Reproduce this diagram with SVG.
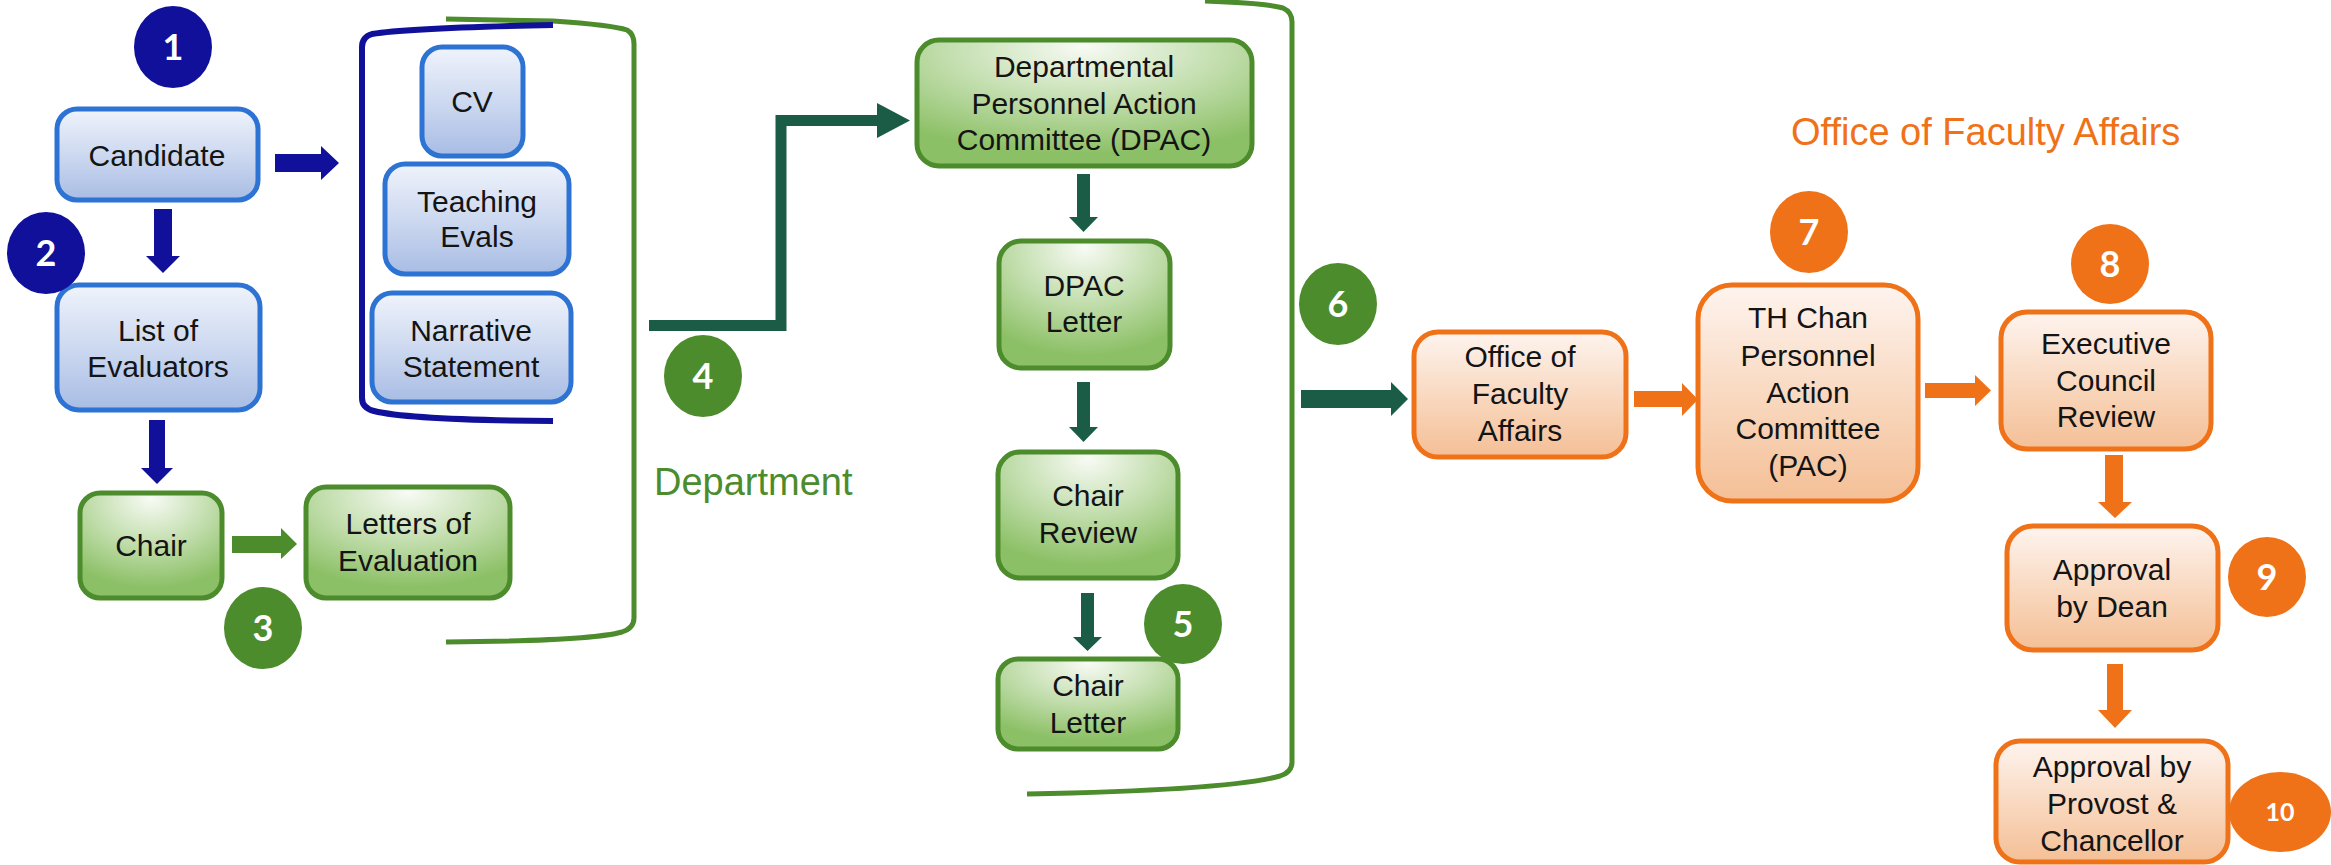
<svg xmlns="http://www.w3.org/2000/svg" width="2331" height="865" viewBox="0 0 2331 865">
<defs>
<linearGradient id="gBlue" x1="0" y1="0" x2="0" y2="1">
<stop offset="0" stop-color="#eff3fb"/><stop offset="0.5" stop-color="#cdd9f0"/><stop offset="1" stop-color="#a8bce4"/>
</linearGradient>
<radialGradient id="gGreen" cx="0.5" cy="0.1" r="0.8" fx="0.5" fy="0.05">
<stop offset="0" stop-color="#f8fbf5"/><stop offset="0.55" stop-color="#bfdca9"/><stop offset="1" stop-color="#8cc066"/>
</radialGradient>
<linearGradient id="gOrange" x1="0" y1="0" x2="0" y2="1">
<stop offset="0" stop-color="#fef4ef"/><stop offset="0.6" stop-color="#f8d4b8"/><stop offset="1" stop-color="#f4bf96"/>
</linearGradient>
<style>
.bb{fill:url(#gBlue);stroke:#2d73d4;stroke-width:5}
.gb{fill:url(#gGreen);stroke:#4c8c2c;stroke-width:5}
.ob{fill:url(#gOrange);stroke:#f07218;stroke-width:5}
.t{font-family:"Liberation Sans",Arial,sans-serif;font-size:30px;fill:#141414;text-anchor:middle}
.n{font-family:Lato,"Open Sans",sans-serif;font-weight:bold;font-size:36px;fill:#ffffff;text-anchor:middle}
.navy{fill:#10109a}.grn{fill:#4c8c2c}.org{fill:#f07218}.teal{fill:#1b5c47}
.title{font-family:"Liberation Sans",Arial,sans-serif;font-size:38px}
</style>
</defs>
<rect width="2331" height="865" fill="#ffffff"/>

<g id="brackets" fill="none" stroke-linecap="butt">
<path d="M446 19 L553 21 Q612 25 627 30 Q634 34 634 44 L634 618 Q634 628 622 632 Q590 641 446 642" stroke="#4c8c2c" stroke-width="5"/>
<path d="M553 25 Q410 28 372 34 Q362 37 362 47 L362 398 Q362 408 374 411 Q410 420 553 421" stroke="#10109a" stroke-width="6"/>
<path d="M1205 1 Q1265 3 1283 8 Q1292 12 1292 22 L1292 762 Q1292 772 1280 776 Q1230 790 1027 794" stroke="#4c8c2c" stroke-width="5"/>
</g>

<g id="connectors">
<path class="navy" d="M154 209 H172 V256 H180 L163 273 L146 256 H154 Z"/>
<path class="navy" d="M275 154 H321 V146 L339 163 L321 180 V172 H275 Z"/>
<path class="navy" d="M149 420 H165 V468 H173 L157 484 L141 468 H149 Z"/>
<path class="grn" d="M232 536 H281 V528 L297 544 L281 559 V553 H232 Z"/>
<polyline points="649,325.5 781,325.5 781,120.5 878,120.5" fill="none" stroke="#1b5c47" stroke-width="11"/>
<polygon class="teal" points="877,103 910,120.5 877,138"/>
<path class="teal" d="M1077 174 H1090 V217 H1098 L1083.5 232 L1069 217 H1077 Z"/>
<path class="teal" d="M1077 382 H1090 V427 H1098 L1083.5 442 L1069 427 H1077 Z"/>
<path class="teal" d="M1081 593 H1094 V637 H1102 L1087.5 651 L1073 637 H1081 Z"/>
<path class="teal" d="M1301 390 H1391 V382 L1408 399 L1391 416 V408 H1301 Z"/>
<path class="org" d="M1634 391 H1682 V383 L1698 399.5 L1682 416 V407 H1634 Z"/>
<path class="org" d="M1925 383 H1975 V375 L1991 390.5 L1975 406 V398 H1925 Z"/>
<path class="org" d="M2105 455 H2123 V502 H2132 L2115 518 L2098 502 H2105 Z"/>
<path class="org" d="M2107 664 H2123 V710 H2132 L2115 728 L2098 710 H2107 Z"/>
</g>

<g id="node-candidate"><rect class="bb" x="57" y="109" width="201" height="91" rx="20"/><text class="t" x="157" y="166">Candidate</text></g>
<g id="node-list"><rect class="bb" x="57" y="285" width="203" height="125" rx="22"/><text class="t" x="158" y="341">List of</text><text class="t" x="158" y="377">Evaluators</text></g>
<g id="node-cv"><rect class="bb" x="422" y="47" width="101" height="109" rx="20"/><text class="t" x="472" y="112">CV</text></g>
<g id="node-teaching"><rect class="bb" x="385" y="164" width="184" height="110" rx="20"/><text class="t" x="477" y="212">Teaching</text><text class="t" x="477" y="247">Evals</text></g>
<g id="node-narrative"><rect class="bb" x="372" y="293" width="199" height="109" rx="20"/><text class="t" x="471" y="341">Narrative</text><text class="t" x="471" y="377">Statement</text></g>

<g id="node-chair"><rect class="gb" x="80" y="493" width="142" height="105" rx="20"/><text class="t" x="151" y="556">Chair</text></g>
<g id="node-letters"><rect class="gb" x="306" y="487" width="204" height="111" rx="20"/><text class="t" x="408" y="534">Letters of</text><text class="t" x="408" y="571">Evaluation</text></g>
<g id="node-dpac"><rect class="gb" x="917" y="40" width="335" height="126" rx="22"/><text class="t" x="1084" y="77">Departmental</text><text class="t" x="1084" y="114">Personnel Action</text><text class="t" x="1084" y="150">Committee (DPAC)</text></g>
<g id="node-dpac-letter"><rect class="gb" x="999" y="241" width="171" height="127" rx="22"/><text class="t" x="1084" y="296">DPAC</text><text class="t" x="1084" y="332">Letter</text></g>
<g id="node-chair-review"><rect class="gb" x="998" y="452" width="180" height="126" rx="22"/><text class="t" x="1088" y="506">Chair</text><text class="t" x="1088" y="543">Review</text></g>
<g id="node-chair-letter"><rect class="gb" x="998" y="659" width="180" height="90" rx="20"/><text class="t" x="1088" y="696">Chair</text><text class="t" x="1088" y="733">Letter</text></g>

<g id="node-ofa"><rect class="ob" x="1414" y="332" width="212" height="125" rx="24"/><text class="t" x="1520" y="367">Office of</text><text class="t" x="1520" y="404">Faculty</text><text class="t" x="1520" y="441">Affairs</text></g>
<g id="node-pac"><rect class="ob" x="1698" y="285" width="220" height="216" rx="34"/><text class="t" x="1808" y="328">TH Chan</text><text class="t" x="1808" y="366">Personnel</text><text class="t" x="1808" y="403">Action</text><text class="t" x="1808" y="439">Committee</text><text class="t" x="1808" y="476">(PAC)</text></g>
<g id="node-exec"><rect class="ob" x="2001" y="312" width="210" height="137" rx="26"/><text class="t" x="2106" y="354">Executive</text><text class="t" x="2106" y="391">Council</text><text class="t" x="2106" y="427">Review</text></g>
<g id="node-dean"><rect class="ob" x="2007" y="526" width="211" height="124" rx="26"/><text class="t" x="2112" y="580">Approval</text><text class="t" x="2112" y="617">by Dean</text></g>
<g id="node-provost"><rect class="ob" x="1996" y="741" width="232" height="121" rx="24"/><text class="t" x="2112" y="777">Approval by</text><text class="t" x="2112" y="814">Provost &amp;</text><text class="t" x="2112" y="851">Chancellor</text></g>

<g id="step-1"><ellipse class="navy" cx="173" cy="47" rx="39" ry="41"/><text class="n" x="173" y="60">1</text></g>
<g id="step-2"><ellipse class="navy" cx="46" cy="253" rx="39" ry="41"/><text class="n" x="46" y="266">2</text></g>
<g id="step-3"><ellipse class="grn" cx="263" cy="628" rx="39" ry="41"/><text class="n" x="263" y="641">3</text></g>
<g id="step-4"><ellipse class="grn" cx="703" cy="376" rx="39" ry="41"/><text class="n" x="703" y="389">4</text></g>
<g id="step-5"><ellipse class="grn" cx="1183" cy="624" rx="39" ry="40"/><text class="n" x="1183" y="637">5</text></g>
<g id="step-6"><ellipse class="grn" cx="1338" cy="304" rx="39" ry="41"/><text class="n" x="1338" y="317">6</text></g>
<g id="step-7"><ellipse class="org" cx="1809" cy="232" rx="39" ry="41"/><text class="n" x="1809" y="245">7</text></g>
<g id="step-8"><ellipse class="org" cx="2110" cy="264" rx="39" ry="40"/><text class="n" x="2110" y="277">8</text></g>
<g id="step-9"><ellipse class="org" cx="2267" cy="577" rx="39" ry="40"/><text class="n" x="2267" y="590">9</text></g>
<g id="step-10"><ellipse class="org" cx="2280" cy="812" rx="51" ry="40"/><text class="n" x="2280" y="821" style="font-size:25px">10</text></g>

<text class="title" x="654" y="495" fill="#4c8c2c">Department</text>
<text class="title" x="1791" y="145" fill="#f07218">Office of Faculty Affairs</text>
</svg>
